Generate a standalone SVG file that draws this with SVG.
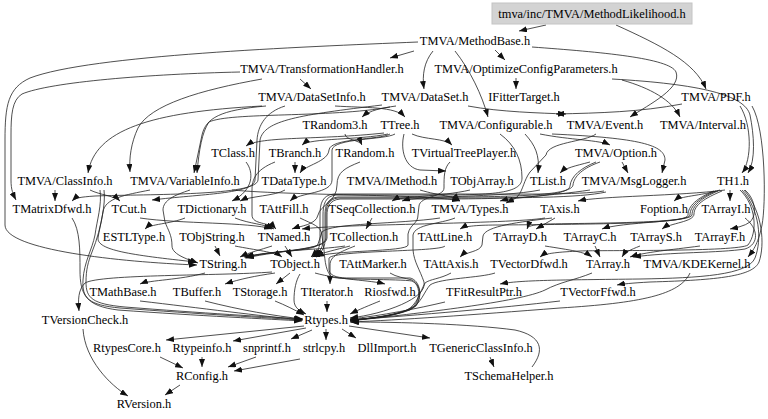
<svg xmlns="http://www.w3.org/2000/svg" width="768" height="419" viewBox="0 0 768 419">
<style>
text{font-family:"Liberation Serif","Times New Roman",serif;font-size:12.4px;fill:#000;text-anchor:middle}
.e{fill:none;stroke:#222;stroke-width:0.8;marker-end:url(#ah)}
</style>
<defs>
<marker id="ah" markerUnits="userSpaceOnUse" markerWidth="8" markerHeight="6" refX="8" refY="3" orient="auto">
<path d="M0,0 L8,3 L0,6 z" fill="#111"/>
</marker>
</defs>
<rect width="768" height="419" fill="#fff"/>
<g id="edges">
<path class="e" d="M546,25 L519,31"/>
<path class="e" d="M616,25 C660,45 695,62 706,89"/>
<path class="e" d="M414,51 L390,58"/>
<path class="e" d="M495,50 L505,60"/>
<path class="e" d="M418,42 C300,47 90,55 30,78 C8,88 5,105 5,140 L5,225 C5,250 120,262 197,265"/>
<path class="e" d="M240,72 C150,74 50,82 22,94 C12,100 11,115 11,135 L11,180 C11,190 13,194 16,200"/>
<path class="e" d="M262,79 C200,90 150,105 138,128 C131,143 129,158 130,172"/>
<path class="e" d="M300,79 L311,89"/>
<path class="e" d="M433,51 C424,62 422,75 424,89"/>
<path class="e" d="M455,51 C470,70 482,95 488,117"/>
<path class="e" d="M532,47 C600,52 670,58 676,72 C682,88 650,104 630,117"/>
<path class="e" d="M516,78 L516,89"/>
<path class="e" d="M622,80 C650,88 672,100 680,117"/>
<path class="e" d="M612,79 C700,84 745,95 750,115 C754,135 756,160 748,173"/>
<path class="e" d="M682,104 C640,112 600,113 556,114"/>
<path class="e" d="M740,106 C752,125 752,160 742,173"/>
<path class="e" d="M752,106 C766,130 766,205 762,225 C758,245 752,252 748,257"/>
<path class="e" d="M262,106 C150,112 95,130 88,173"/>
<path class="e" d="M266,106 C220,110 206,118 202,135 L194,173"/>
<path class="e" d="M390,107 C330,118 230,112 209,122 C202,132 199,150 197,173"/>
<path class="e" d="M335,106 C365,108 395,106 405,117"/>
<path class="e" d="M396,106 C382,108 370,110 362,117"/>
<path class="e" d="M468,106 C500,112 540,113 566,114"/>
<path class="e" d="M285,106 C266,112 258,125 257,140 L255,180 C254,194 200,194 152,200"/>
<path class="e" d="M382,105 C300,115 264,120 260,140 L258,180 C257,196 150,194 95,196 C80,197 75,198 72,201"/>
<path class="e" d="M345,134 C345,140 360,140 362,145"/>
<path class="e" d="M388,134 C360,140 310,138 302,145"/>
<path class="e" d="M384,133 C320,140 260,136 246,146"/>
<path class="e" d="M412,134 C425,140 445,138 452,145"/>
<path class="e" d="M390,134 C380,140 330,138 329,150 C328,162 305,165 300,173"/>
<path class="e" d="M404,134 C400,150 405,168 420,170 L446,171"/>
<path class="e" d="M395,134 C385,140 333,138 332,150 L332,180 C332,194 300,192 290,201"/>
<path class="e" d="M525,134 C535,145 540,155 538,173"/>
<path class="e" d="M540,134 C570,140 600,140 610,145"/>
<path class="e" d="M552,134 C640,138 665,145 665,160 L662,173"/>
<path class="e" d="M500,134 C515,145 522,160 522,178 C522,192 500,195 440,195 L336,195 C325,196 323,205 323,215 L323,240 C323,250 318,252 314,257"/>
<path class="e" d="M596,134 C585,142 548,142 546,155 L530,172 C524,180 523,190 518,196 C514,200 510,201 506,203"/>
<path class="e" d="M246,162 C254,172 254,190 232,201"/>
<path class="e" d="M295,162 L295,173"/>
<path class="e" d="M275,162 C255,170 252,180 252,190 L252,215 C252,225 270,222 276,229"/>
<path class="e" d="M360,162 C345,168 337,172 337,185 C337,202 320,205 318,215 C316,225 300,226 292,229"/>
<path class="e" d="M450,162 C444,168 444,176 444,188 C444,197 420,196 419,206 L418,215 C418,224 410,224 408,234 L408,245 C408,252 330,250 316,257"/>
<path class="e" d="M590,162 C575,166 565,168 560,173"/>
<path class="e" d="M622,162 L628,173"/>
<path class="e" d="M600,162 C583,168 574,176 573,185 C572,195 520,197 440,197 L338,197 C327,198 325,206 325,215 L325,240 C325,250 320,252 316,257"/>
<path class="e" d="M596,162 C581,168 571,176 570,186 C569,196 520,199 440,199 L340,199 C329,200 327,208 327,215 L327,238 C327,250 280,250 246,258"/>
<path class="e" d="M90,190 C100,195 115,196 120,201"/>
<path class="e" d="M55,190 L55,201"/>
<path class="e" d="M100,190 C102,205 97,220 95,235 C92,250 84,262 83,280 C82,298 88,305 120,308 C200,314 270,318 302,320"/>
<path class="e" d="M104,190 C106,205 100,225 98,238 C97,250 130,255 196,262"/>
<path class="e" d="M232,190 C300,196 430,194 460,201"/>
<path class="e" d="M190,190 C175,195 163,200 163,210 L165,222 C168,230 172,235 172,246 C172,255 190,260 198,263"/>
<path class="e" d="M150,190 C125,195 105,198 103,212 C101,225 97,240 92,252 C88,262 86,270 86,282 C86,298 92,304 125,307 C200,313 270,317 302,319"/>
<path class="e" d="M285,190 C275,196 250,196 240,201"/>
<path class="e" d="M420,190 C440,196 455,196 460,201"/>
<path class="e" d="M470,190 C440,197 400,196 392,201"/>
<path class="e" d="M540,190 C500,198 420,195 402,201"/>
<path class="e" d="M590,190 C550,196 515,197 500,201"/>
<path class="e" d="M604,191 C580,195 520,194 440,194 L334,194 C322,195 320,204 320,215 L320,240 C320,250 316,252 311,257"/>
<path class="e" d="M606,192 C580,198 520,198 440,198 L338,198 C328,199 326,207 326,215 L326,238 C326,250 280,250 244,257"/>
<path class="e" d="M725,190 C680,196 600,196 578,201"/>
<path class="e" d="M730,190 L730,201"/>
<path class="e" d="M720,190 C700,196 680,196 674,201"/>
<path class="e" d="M722,191 C705,198 694,205 694,214 C694,222 670,223 662,229"/>
<path class="e" d="M718,191 C701,198 692,206 692,215 C692,222 620,222 602,229"/>
<path class="e" d="M716,191 C699,198 690,206 690,215 C690,223 600,223 545,224 C532,225 528,226 527,229"/>
<path class="e" d="M714,191 C697,198 688,206 688,215 C688,224 600,224 500,225 C478,225 465,226 460,229"/>
<path class="e" d="M745,190 C756,200 757,215 750,222 C745,226 735,228 730,229"/>
<path class="e" d="M740,190 C756,205 758,232 748,245 C738,252 600,250 580,251 C560,252 545,253 540,257"/>
<path class="e" d="M742,190 C760,210 762,240 755,258 C748,275 700,278 640,279 C560,280 520,280 500,284"/>
<path class="e" d="M744,190 C763,212 765,245 759,262 C753,276 720,280 650,282 C632,283 622,284 617,285"/>
<path class="e" d="M140,218 C180,224 250,222 272,229"/>
<path class="e" d="M235,218 C250,224 265,224 274,229"/>
<path class="e" d="M185,218 C170,224 150,224 145,229"/>
<path class="e" d="M72,218 C80,230 80,250 80,270 C80,295 86,306 118,310 C200,316 270,319 302,321"/>
<path class="e" d="M372,218 L366,229"/>
<path class="e" d="M455,218 C440,224 415,224 413,235 L413,250 C414,262 420,270 424,282 C428,298 385,314 350,318"/>
<path class="e" d="M440,218 C400,224 330,223 322,232 L318,244 C316,252 270,250 246,257"/>
<path class="e" d="M300,218 C312,224 322,226 322,236 L324,250 C325,262 326,272 332,277 C340,280 400,279 412,281 C420,284 421,298 414,306 C400,316 375,318 350,320"/>
<path class="e" d="M445,246 C440,252 335,250 329,258 L329,270 C330,277 340,278 350,278 L410,278 C420,280 423,296 416,306 C404,315 378,318 350,320"/>
<path class="e" d="M390,273 C396,277 405,278 412,280 C421,285 422,298 415,306 C402,315 377,318 350,320"/>
<path class="e" d="M451,273 C440,279 430,279 425,283 C420,292 417,305 407,310 C390,316 370,318 350,321"/>
<path class="e" d="M545,218 C510,224 340,224 302,229"/>
<path class="e" d="M552,218 C520,222 485,226 483,236 L482,245 C480,252 465,252 460,257"/>
<path class="e" d="M555,218 L536,229"/>
<path class="e" d="M215,246 L220,256"/>
<path class="e" d="M235,246 C255,250 275,252 282,257"/>
<path class="e" d="M285,246 L292,257"/>
<path class="e" d="M272,246 C260,250 250,252 240,257"/>
<path class="e" d="M350,246 C335,250 325,252 312,257"/>
<path class="e" d="M355,246 C340,252 330,256 330,265 L330,276 C330,280 330,282 330,284"/>
<path class="e" d="M345,246 C320,250 270,250 245,258"/>
<path class="e" d="M545,246 C570,250 585,252 592,257"/>
<path class="e" d="M595,246 L600,257"/>
<path class="e" d="M640,246 C630,250 625,252 622,257"/>
<path class="e" d="M700,246 C670,250 645,252 630,257"/>
<path class="e" d="M745,218 C758,228 760,244 745,249 C720,253 670,252 633,257"/>
<path class="e" d="M205,273 C180,280 150,280 140,284"/>
<path class="e" d="M275,273 C255,276 240,279 225,284"/>
<path class="e" d="M290,273 L276,284"/>
<path class="e" d="M272,272 C220,276 100,274 85,283 C78,290 78,300 79,311"/>
<path class="e" d="M315,273 C340,280 370,280 385,284"/>
<path class="e" d="M300,274 C296,280 294,290 294,300 C294,308 300,311 306,314"/>
<path class="e" d="M140,301 C200,308 260,316 303,320"/>
<path class="e" d="M205,301 C240,310 275,316 303,319"/>
<path class="e" d="M275,301 C285,305 295,310 304,315"/>
<path class="e" d="M327,301 L327,312"/>
<path class="e" d="M380,301 C370,305 358,310 350,314"/>
<path class="e" d="M592,273 C575,280 560,282 545,290 C520,302 420,313 350,321"/>
<path class="e" d="M690,273 C680,295 640,303 560,308 C470,315 400,320 350,322"/>
<path class="e" d="M560,301 C500,308 420,315 350,320"/>
<path class="e" d="M445,302 C420,308 380,316 350,319"/>
<path class="e" d="M495,273 C480,278 440,278 430,285 C424,292 422,302 410,310 C390,316 370,319 350,320"/>
<path class="e" d="M532,367 C545,350 542,336 515,330 C470,324 400,322 351,322"/>
<path class="e" d="M304,326 L166,340"/>
<path class="e" d="M306,328 L233,341"/>
<path class="e" d="M312,330 L291,339"/>
<path class="e" d="M326,329 L326,340"/>
<path class="e" d="M342,329 L356,338"/>
<path class="e" d="M349,326 L430,338"/>
<path class="e" d="M490,357 L494,367"/>
<path class="e" d="M83,329 C85,360 110,385 128,396"/>
<path class="e" d="M160,357 L183,368"/>
<path class="e" d="M202,357 L202,367"/>
<path class="e" d="M256,357 L228,367"/>
<path class="e" d="M300,359 L234,371"/>
<path class="e" d="M180,385 L165,395"/>
</g>
<g id="n_MethodLikelihood"><rect x="492" y="3" width="200" height="21" fill="#d3d3d3" stroke="#c4c4c4"/><text x="592" y="18">tmva/inc/TMVA/MethodLikelihood.h</text></g>
<g id="n_MethodBase"><text x="475" y="45">TMVA/MethodBase.h</text></g>
<g id="n_TransformationHandler"><text x="322" y="73">TMVA/TransformationHandler.h</text></g>
<g id="n_OptimizeConfigParameters"><text x="526" y="73">TMVA/OptimizeConfigParameters.h</text></g>
<g id="n_DataSetInfo"><text x="312" y="101">TMVA/DataSetInfo.h</text></g>
<g id="n_DataSet"><text x="425" y="101">TMVA/DataSet.h</text></g>
<g id="n_IFitterTarget"><text x="524" y="101">IFitterTarget.h</text></g>
<g id="n_PDF"><text x="716" y="101">TMVA/PDF.h</text></g>
<g id="n_TRandom3"><text x="335" y="129">TRandom3.h</text></g>
<g id="n_TTree"><text x="400" y="129">TTree.h</text></g>
<g id="n_Configurable"><text x="496" y="129">TMVA/Configurable.h</text></g>
<g id="n_Event"><text x="605" y="129">TMVA/Event.h</text></g>
<g id="n_Interval"><text x="703" y="129">TMVA/Interval.h</text></g>
<g id="n_TClass"><text x="233" y="157">TClass.h</text></g>
<g id="n_TBranch"><text x="295" y="157">TBranch.h</text></g>
<g id="n_TRandom"><text x="365" y="157">TRandom.h</text></g>
<g id="n_TVirtualTreePlayer"><text x="464" y="157">TVirtualTreePlayer.h</text></g>
<g id="n_Option"><text x="616" y="157">TMVA/Option.h</text></g>
<g id="n_ClassInfo"><text x="65" y="185">TMVA/ClassInfo.h</text></g>
<g id="n_VariableInfo"><text x="185" y="185">TMVA/VariableInfo.h</text></g>
<g id="n_TDataType"><text x="294" y="185">TDataType.h</text></g>
<g id="n_IMethod"><text x="392" y="185">TMVA/IMethod.h</text></g>
<g id="n_TObjArray"><text x="482" y="185">TObjArray.h</text></g>
<g id="n_TList"><text x="548" y="185">TList.h</text></g>
<g id="n_MsgLogger"><text x="634" y="185">TMVA/MsgLogger.h</text></g>
<g id="n_TH1"><text x="733" y="185">TH1.h</text></g>
<g id="n_TMatrixDfwd"><text x="52" y="213">TMatrixDfwd.h</text></g>
<g id="n_TCut"><text x="129" y="213">TCut.h</text></g>
<g id="n_TDictionary"><text x="212" y="213">TDictionary.h</text></g>
<g id="n_TAttFill"><text x="284" y="213">TAttFill.h</text></g>
<g id="n_TSeqCollection"><text x="372" y="213">TSeqCollection.h</text></g>
<g id="n_Types"><text x="470" y="213">TMVA/Types.h</text></g>
<g id="n_TAxis"><text x="560" y="213">TAxis.h</text></g>
<g id="n_Foption"><text x="664" y="213">Foption.h</text></g>
<g id="n_TArrayI"><text x="726" y="213">TArrayI.h</text></g>
<g id="n_ESTLType"><text x="134" y="241">ESTLType.h</text></g>
<g id="n_TObjString"><text x="212" y="241">TObjString.h</text></g>
<g id="n_TNamed"><text x="284" y="241">TNamed.h</text></g>
<g id="n_TCollection"><text x="364" y="241">TCollection.h</text></g>
<g id="n_TAttLine"><text x="445" y="241">TAttLine.h</text></g>
<g id="n_TArrayD"><text x="520" y="241">TArrayD.h</text></g>
<g id="n_TArrayC"><text x="590" y="241">TArrayC.h</text></g>
<g id="n_TArrayS"><text x="656" y="241">TArrayS.h</text></g>
<g id="n_TArrayF"><text x="720" y="241">TArrayF.h</text></g>
<g id="n_TString"><text x="223" y="268">TString.h</text></g>
<g id="n_TObject"><text x="295" y="268">TObject.h</text></g>
<g id="n_TAttMarker"><text x="373" y="268">TAttMarker.h</text></g>
<g id="n_TAttAxis"><text x="451" y="268">TAttAxis.h</text></g>
<g id="n_TVectorDfwd"><text x="529" y="268">TVectorDfwd.h</text></g>
<g id="n_TArray"><text x="608" y="268">TArray.h</text></g>
<g id="n_KDEKernel"><text x="697" y="268">TMVA/KDEKernel.h</text></g>
<g id="n_TMathBase"><text x="123" y="296">TMathBase.h</text></g>
<g id="n_TBuffer"><text x="197" y="296">TBuffer.h</text></g>
<g id="n_TStorage"><text x="260" y="296">TStorage.h</text></g>
<g id="n_TIterator"><text x="327" y="296">TIterator.h</text></g>
<g id="n_Riosfwd"><text x="390" y="296">Riosfwd.h</text></g>
<g id="n_TFitResultPtr"><text x="484" y="296">TFitResultPtr.h</text></g>
<g id="n_TVectorFfwd"><text x="598" y="296">TVectorFfwd.h</text></g>
<g id="n_TVersionCheck"><text x="85" y="324">TVersionCheck.h</text></g>
<g id="n_Rtypes"><text x="326" y="324">Rtypes.h</text></g>
<g id="n_RtypesCore"><text x="127" y="352">RtypesCore.h</text></g>
<g id="n_Rtypeinfo"><text x="202" y="352">Rtypeinfo.h</text></g>
<g id="n_snprintf"><text x="267" y="352">snprintf.h</text></g>
<g id="n_strlcpy"><text x="324" y="352">strlcpy.h</text></g>
<g id="n_DllImport"><text x="387" y="352">DllImport.h</text></g>
<g id="n_TGenericClassInfo"><text x="481" y="352">TGenericClassInfo.h</text></g>
<g id="n_RConfig"><text x="202" y="380">RConfig.h</text></g>
<g id="n_TSchemaHelper"><text x="509" y="380">TSchemaHelper.h</text></g>
<g id="n_RVersion"><text x="144" y="408">RVersion.h</text></g>
</svg>
